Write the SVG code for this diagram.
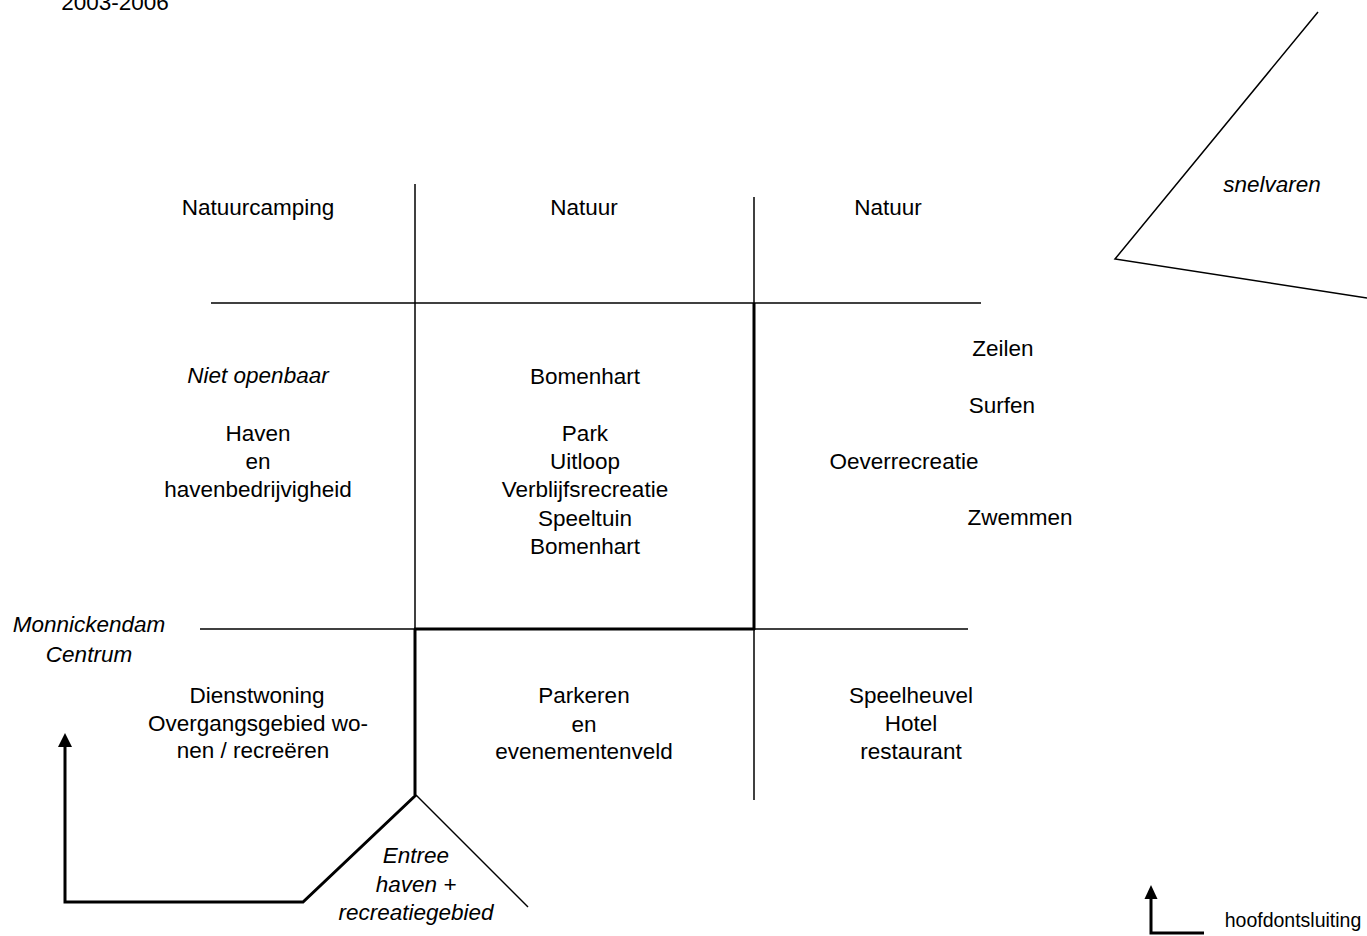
<svg xmlns="http://www.w3.org/2000/svg" width="1367" height="936" viewBox="0 0 1367 936">
<style>
text{font-family:"Liberation Sans",Arial,sans-serif;font-size:22.5px;fill:#000;text-anchor:middle}
.i{font-style:italic}
.thin{stroke:#000;stroke-width:1.5;fill:none}
.thick{stroke:#000;stroke-width:3;fill:none}
</style>
<defs>
<marker id="ah" markerWidth="5" markerHeight="5" refX="2.5" refY="0" orient="auto" markerUnits="strokeWidth" viewBox="0 -0.2 5 5" overflow="visible">
<path d="M0,4.6 L2.5,0 L5,4.6 Z" fill="#000" transform="rotate(0)"/>
</marker>
</defs>
<rect width="1367" height="936" fill="#fff"/>
<g id="connectors">
<line class="thin" x1="415" y1="184" x2="415" y2="629"/>
<line class="thin" x1="754" y1="197" x2="754" y2="303"/>
<line class="thin" x1="754" y1="629" x2="754" y2="800"/>
<line class="thin" x1="211" y1="303" x2="981" y2="303"/>
<line class="thin" x1="200" y1="629" x2="415" y2="629"/>
<line class="thin" x1="754" y1="629" x2="968" y2="629"/>
<line class="thick" x1="754" y1="303" x2="754" y2="630"/>
<line class="thick" x1="414" y1="629" x2="755" y2="629"/>
<line class="thick" x1="415" y1="629" x2="415" y2="795"/>
<path class="thick" d="M65,747 L65,902 L303,902 L416,795"/>
<path d="M58,747 L65,733 L72,747 Z" fill="#000"/>
<line class="thin" x1="416" y1="795" x2="528" y2="907"/>
<path class="thin" d="M1318,12 L1115,259 L1367,298"/>
<path class="thick" d="M1151,899 L1151,933 L1204,933"/>
<path d="M1144.5,899 L1151,885 L1157.5,899 Z" fill="#000"/>
</g>
<g id="year"><text x="115" y="10">2003-2006</text></g>
<g id="natuurcamping"><text x="258" y="215">Natuurcamping</text></g>
<g id="natuur1"><text x="584" y="215">Natuur</text></g>
<g id="natuur2"><text x="888" y="215">Natuur</text></g>
<g id="snelvaren"><text class="i" x="1272" y="192">snelvaren</text></g>
<g id="haven">
<text class="i" x="258" y="383">Niet openbaar</text>
<text x="258" y="441">Haven</text>
<text x="258" y="469">en</text>
<text x="258" y="497">havenbedrijvigheid</text>
</g>
<g id="bomenhart">
<text x="585" y="384">Bomenhart</text>
<text x="585" y="441">Park</text>
<text x="585" y="469">Uitloop</text>
<text x="585" y="497">Verblijfsrecreatie</text>
<text x="585" y="526">Speeltuin</text>
<text x="585" y="554">Bomenhart</text>
</g>
<g id="water">
<text x="1003" y="356">Zeilen</text>
<text x="1002" y="413">Surfen</text>
<text x="904" y="469">Oeverrecreatie</text>
<text x="1020" y="525">Zwemmen</text>
</g>
<g id="monnickendam">
<text class="i" x="89" y="632">Monnickendam</text>
<text class="i" x="89" y="662">Centrum</text>
</g>
<g id="dienstwoning">
<text x="257" y="703">Dienstwoning</text>
<text x="258" y="731">Overgangsgebied wo-</text>
<text x="253" y="758">nen / recreëren</text>
</g>
<g id="parkeren">
<text x="584" y="703">Parkeren</text>
<text x="584" y="732">en</text>
<text x="584" y="759">evenementenveld</text>
</g>
<g id="speelheuvel">
<text x="911" y="703">Speelheuvel</text>
<text x="911" y="731">Hotel</text>
<text x="911" y="759">restaurant</text>
</g>
<g id="entree">
<text class="i" x="416" y="863">Entree</text>
<text class="i" x="416" y="892">haven +</text>
<text class="i" x="416" y="920">recreatiegebied</text>
</g>
<g id="legend"><text x="1293" y="927" style="font-size:19.5px">hoofdontsluiting</text></g>
</svg>
